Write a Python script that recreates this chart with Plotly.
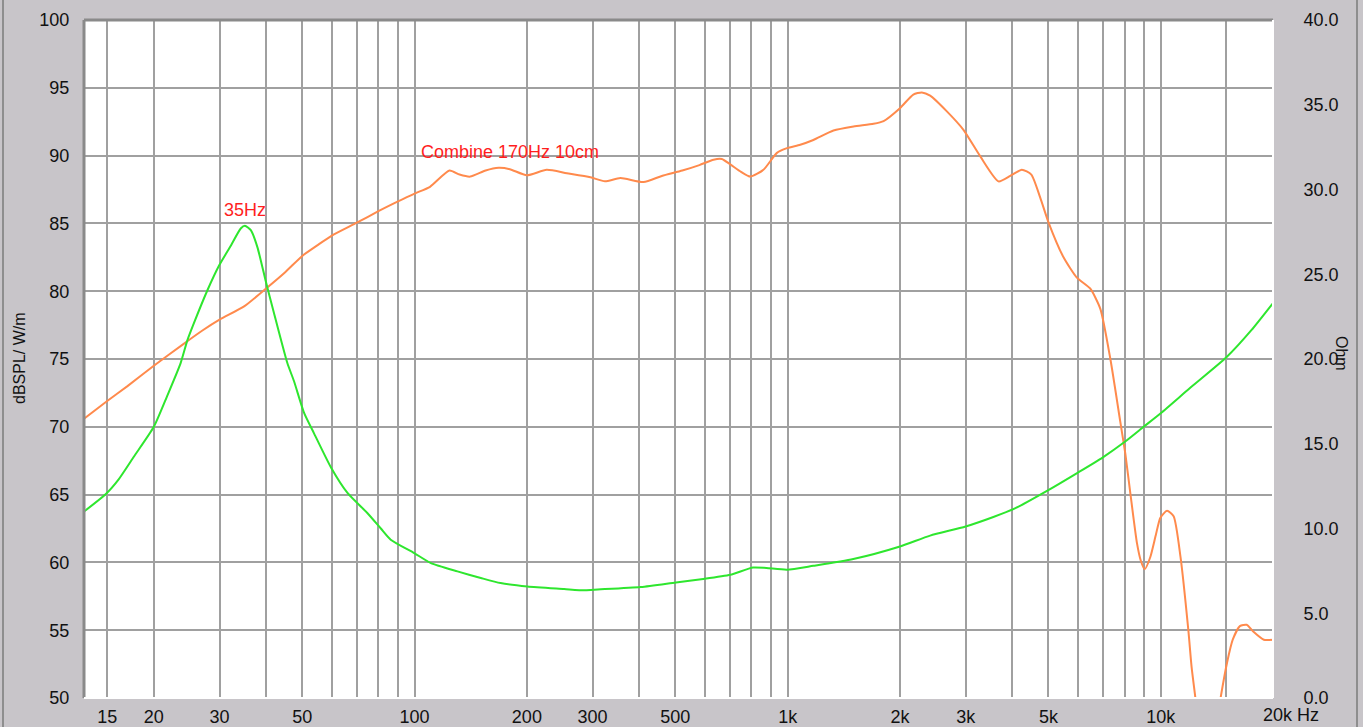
import plotly.graph_objects as go

# ---------------- data ----------------
spl_freq = [13, 15, 17, 20, 24, 27, 30, 35, 40, 45, 50, 55, 60, 70, 80, 90, 100, 110,
            124, 132, 141, 155, 168, 180, 200, 226, 256, 296, 324, 356, 411, 460, 522,
            580, 633, 666, 702, 750, 794, 861, 936, 996, 1081, 1172, 1327, 1502, 1699,
            1808, 2000, 2172, 2290, 2410, 2672, 2960, 3284, 3675, 3950, 4244, 4500, 4754,
            5000, 5490, 5960, 6470, 6890, 7330, 7790, 8040, 8300, 8640, 8850, 9060, 9380,
            9700, 9980, 10400, 10830, 11300, 11860, 12100, 12400, 12800, 13200, 13600,
            14000, 14450, 15060, 15600, 16300, 17000, 17700, 18900, 20000]
spl_db = [70.6, 71.9, 73.0, 74.5, 76.1, 77.1, 77.9, 78.9, 80.2, 81.4, 82.6, 83.4, 84.1,
          85.05, 85.9, 86.6, 87.2, 87.7, 88.9, 88.6, 88.45, 88.9, 89.1, 89.0, 88.55, 88.95,
          88.7, 88.4, 88.1, 88.35, 88.05, 88.5, 88.9, 89.3, 89.7, 89.75, 89.35, 88.8, 88.45,
          88.95, 90.2, 90.55, 90.8, 91.15, 91.85, 92.15, 92.35, 92.55, 93.5, 94.5, 94.66,
          94.42, 93.26, 91.9, 89.94, 88.1, 88.5, 88.96, 88.6, 86.9, 85.1, 82.5, 81.0, 80.2,
          78.7, 75.0, 70.4, 68.0, 65.0, 61.4, 60.1, 59.5, 60.4, 62.0, 63.3, 63.8, 63.4,
          60.4, 55.0, 52.3, 49.9, 46.5, 45.0, 45.5, 47.5, 49.9, 52.6, 54.3, 55.3, 55.4,
          54.9, 54.3, 54.3]

imp_freq = [13, 14.9, 16.1, 17.7, 20, 21.7, 23.6, 24.6, 25.6, 27.9, 29.9, 32.2, 34.2,
            35.1, 36.4, 37.9, 39.9, 42.0, 45.6, 47.5, 50.6, 53.8, 59.7, 66.1, 74.8, 81.2,
            86.3, 99.8, 110.6, 130.3, 150.5, 170, 200.7, 251.8, 284.8, 303, 404, 502, 594,
            702, 808, 877, 996, 1172, 1500, 2000, 2410, 3000, 3560, 4080, 4930, 6000, 7000,
            8000, 9000, 10000, 12000, 15000, 17500, 20000]
imp_ohm = [11.0, 12.05, 12.9, 14.25, 16.0, 17.8, 19.76, 21.1, 22.1, 24.1, 25.5, 26.7,
           27.7, 27.86, 27.6, 26.6, 24.6, 22.7, 19.76, 18.7, 16.8, 15.6, 13.6, 12.1, 10.9,
           10.0, 9.34, 8.55, 7.96, 7.47, 7.08, 6.78, 6.58, 6.43, 6.35, 6.39, 6.55, 6.82,
           7.02, 7.27, 7.7, 7.67, 7.57, 7.8, 8.2, 8.94, 9.58, 10.12, 10.68, 11.2, 12.19,
           13.3, 14.2, 15.1, 16.0, 16.8, 18.3, 20.1, 21.7, 23.3]

grid_freqs = [15, 20, 30, 40, 50, 60, 70, 80, 90, 100, 200, 300, 400, 500, 600, 700,
              800, 900, 1000, 2000, 3000, 4000, 5000, 6000, 7000, 8000, 9000, 10000, 15000]
tick_labels = {15: "15", 20: "20", 30: "30", 50: "50", 100: "100", 200: "200", 300: "300",
               500: "500", 1000: "1k", 2000: "2k", 3000: "3k", 5000: "5k", 10000: "10k"}

db_ticks = [50, 55, 60, 65, 70, 75, 80, 85, 90, 95, 100]
ohm_ticks = [0, 5, 10, 15, 20, 25, 30, 35, 40]

# ---------------- styling ----------------
BG = "#C8C5C9"
GRID = "#A0A0A0"
FONT = "Liberation Sans, Arial, sans-serif"
W, H = 1363, 727
L, R, T, B = 84, 1273, 20, 698

def px_x(p):
    return (p - L) / (R - L)

def px_y(p):
    return (B - p) / (B - T)

fig = go.Figure()
fig.add_trace(go.Scatter(x=imp_freq, y=imp_ohm, yaxis="y2", mode="lines",
                         line=dict(color="#2EE62E", width=2, shape="spline", smoothing=0.6),
                         hoverinfo="skip", showlegend=False))
fig.add_trace(go.Scatter(x=spl_freq, y=spl_db, mode="lines",
                         line=dict(color="#FF8A4C", width=2, shape="spline", smoothing=0.6),
                         hoverinfo="skip", showlegend=False))

fig.update_layout(
    width=W, height=H,
    margin=dict(l=L, r=W - R, t=T, b=H - B, autoexpand=False),
    paper_bgcolor=BG, plot_bgcolor="#FFFFFF",
    font=dict(family=FONT, size=18, color="#111111"),
    xaxis=dict(type="log", range=[1.1139, 4.30103],
               tickvals=grid_freqs,
               ticktext=[tick_labels.get(f, "") for f in grid_freqs],
               showgrid=True, gridcolor=GRID, gridwidth=2,
               ticks="outside", ticklen=2, tickcolor="rgba(0,0,0,0)",
               showline=False, zeroline=False, fixedrange=True, automargin=False),
    yaxis=dict(range=[50, 100], tickvals=db_ticks,
               showgrid=True, gridcolor=GRID, gridwidth=2,
               ticks="outside", ticklen=10, tickcolor="rgba(0,0,0,0)",
               showline=False, zeroline=False, fixedrange=True, automargin=False),
    yaxis2=dict(range=[0, 40], tickvals=ohm_ticks, tickformat=".1f",
                overlaying="y", side="right", showgrid=False,
                ticks="outside", ticklen=26, tickcolor="rgba(0,0,0,0)",
                showline=False, zeroline=False, fixedrange=True, automargin=False),
)

shapes = [
    # sunken plot frame: dark top/left, light bottom/right
    dict(type="line", xref="paper", yref="paper", x0=0, x1=1, y0=1, y1=1,
         line=dict(color="#8A8A8A", width=3)),
    dict(type="line", xref="paper", yref="paper", x0=0, x1=0, y0=0, y1=1,
         line=dict(color="#8A8A8A", width=3)),
    dict(type="line", xref="paper", yref="paper", x0=0, x1=1, y0=0, y1=0,
         line=dict(color="#FFFFFF", width=2)),
    dict(type="line", xref="paper", yref="paper", x0=1, x1=1, y0=0, y1=1,
         line=dict(color="#FFFFFF", width=2)),
    # outer window frame lines
    dict(type="line", xref="paper", yref="paper", x0=px_x(3), x1=px_x(3),
         y0=px_y(H), y1=px_y(0), line=dict(color="#8E8E8E", width=2)),
    dict(type="line", xref="paper", yref="paper", x0=px_x(1357), x1=px_x(1357),
         y0=px_y(H), y1=px_y(0), line=dict(color="#8E8E8E", width=2)),
]
fig.update_layout(shapes=shapes)

annotations = [
    dict(text="35Hz", x=px_x(245), y=px_y(210), xref="paper", yref="paper",
         showarrow=False, font=dict(color="#FF1E1E", size=18, family=FONT),
         xanchor="center", yanchor="middle"),
    dict(text="Combine 170Hz 10cm", x=px_x(419), y=px_y(152), xref="paper", yref="paper",
         showarrow=False, font=dict(color="#FF1E1E", size=18, family=FONT),
         xanchor="left", yanchor="middle"),
    dict(text="20k Hz", x=px_x(1261), y=px_y(715), xref="paper", yref="paper",
         showarrow=False, font=dict(color="#111111", size=18, family=FONT),
         xanchor="left", yanchor="middle"),
    dict(text="dBSPL/ W/m", x=px_x(19), y=px_y(358), xref="paper", yref="paper",
         showarrow=False, textangle=-90, font=dict(color="#111111", size=16, family=FONT),
         xanchor="center", yanchor="middle"),
    dict(text="Ohm", x=px_x(1341), y=px_y(354), xref="paper", yref="paper",
         showarrow=False, textangle=90, font=dict(color="#111111", size=16, family=FONT),
         xanchor="center", yanchor="middle"),
]
fig.update_layout(annotations=annotations)

fig.write_html("out.html", config={"displayModeBar": False},
               post_script="document.body.style.margin='0';document.body.style.overflow='hidden';")
